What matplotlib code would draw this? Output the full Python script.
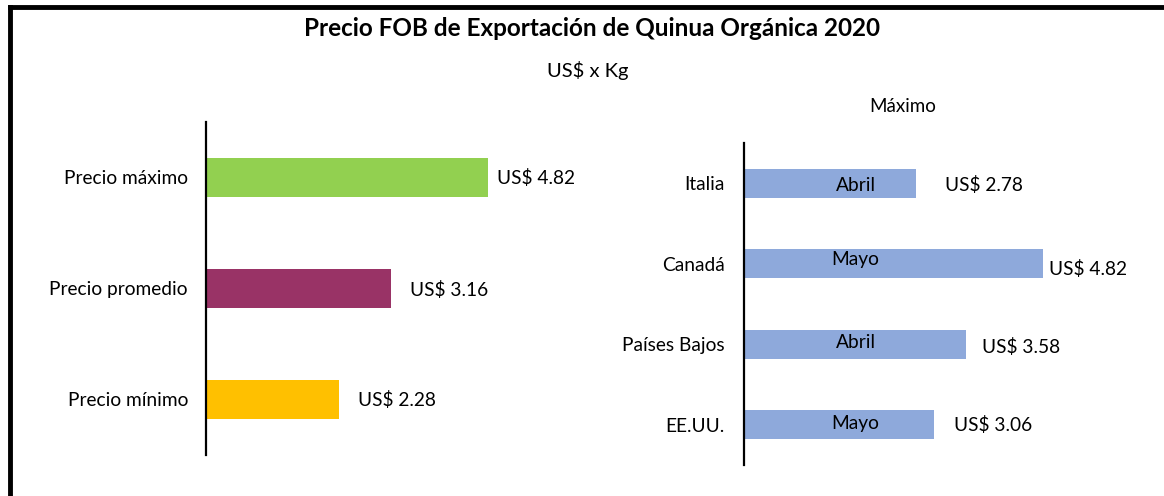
import matplotlib
matplotlib.use("Agg")
import matplotlib.pyplot as plt
from matplotlib.lines import Line2D

plt.rcParams['font.family'] = ['Lato', 'DejaVu Sans']

# ---- data ----
left_categories = ["Precio mínimo", "Precio promedio", "Precio máximo"]
left_values = [2.28, 3.16, 4.82]
left_colors = ["#FFC000", "#993366", "#92D050"]

right_categories = ["EE.UU.", "Países Bajos", "Canadá", "Italia"]
right_values = [3.06, 3.58, 4.82, 2.78]
right_months = ["Mayo", "Abril", "Mayo", "Abril"]
right_color = "#8EA9DB"

title = "Precio FOB de Exportación de Quinua Orgánica 2020"
subtitle = "US$ x Kg"
right_title = "Máximo"

W, H = 1164, 496
fig = plt.figure(figsize=(W / 100, H / 100), dpi=100)

def px_axes(x0, y0, x1, y1):
    return fig.add_axes([x0 / W, 1 - y1 / H, (x1 - x0) / W, (y1 - y0) / H])

# border (top and left)
fig.add_artist(Line2D([10 / W, 1], [1 - 7 / H, 1 - 7 / H], color="black", lw=3.5,
                      transform=fig.transFigure))
fig.add_artist(Line2D([10 / W, 10 / W], [0, 1 - 7 / H], color="black", lw=3.5,
                      transform=fig.transFigure))

fig.text(592 / W, 1 - 28 / H, title, ha="center", va="center", fontsize=17.5,
         fontweight="bold")
fig.text(588 / W, 1 - 70 / H, subtitle, ha="center", va="center", fontsize=14.5)
fig.text(903 / W, 1 - 107 / H, right_title, ha="center", va="center", fontsize=13.5)

LABEL_FS = 13.8

def style(ax):
    for s in ["top", "right", "bottom"]:
        ax.spines[s].set_visible(False)
    ax.spines["left"].set_linewidth(1.6)
    ax.tick_params(axis="y", length=0, pad=13, labelsize=LABEL_FS)
    ax.tick_params(axis="x", bottom=False, labelbottom=False)

# ---- left chart ----
axL = px_axes(206, 122, 206 + 58.5 * 6, 455)
yl = list(range(len(left_categories)))
axL.barh(yl, left_values, height=0.36, color=left_colors)
axL.set_xlim(0, 6)
axL.set_ylim(-0.5, len(left_categories) - 0.5)
axL.set_yticks(yl)
axL.set_yticklabels(left_categories)
style(axL)
left_offsets = [(19, -1), (19, -1), (9, 0)]
for y, v, (ox, oy) in zip(yl, left_values, left_offsets):
    axL.annotate(f"US$ {v:.2f}", (v, y), xytext=(ox * 0.72, oy * 0.72),
                 textcoords="offset points", ha="left", va="center", fontsize=LABEL_FS)

# ---- right chart ----
axR = px_axes(744, 143, 744 + 62 * 6, 465)
yr = list(range(len(right_categories)))
axR.barh(yr, right_values, height=0.36, color=right_color)
axR.set_xlim(0, 6)
axR.set_ylim(-0.5, len(right_categories) - 0.5)
axR.set_yticks(yr)
axR.set_yticklabels(right_categories)
style(axR)
axR.tick_params(axis="y", pad=14)
right_offsets = [(20, 0), (16, -3), (6, -5), (29, -2)]
month_dy = [1, 2, 4, -2]
for y, v, m, (ox, oy), md in zip(yr, right_values, right_months, right_offsets, month_dy):
    axR.annotate(f"US$ {v:.2f}", (v, y), xytext=(ox * 0.72, oy * 0.72),
                 textcoords="offset points", ha="left", va="center", fontsize=LABEL_FS)
    axR.annotate(m, (1.8, y), xytext=(0, md * 0.72), textcoords="offset points",
                 ha="center", va="center", fontsize=LABEL_FS)

fig.savefig("out.png", dpi=100, facecolor="white")
